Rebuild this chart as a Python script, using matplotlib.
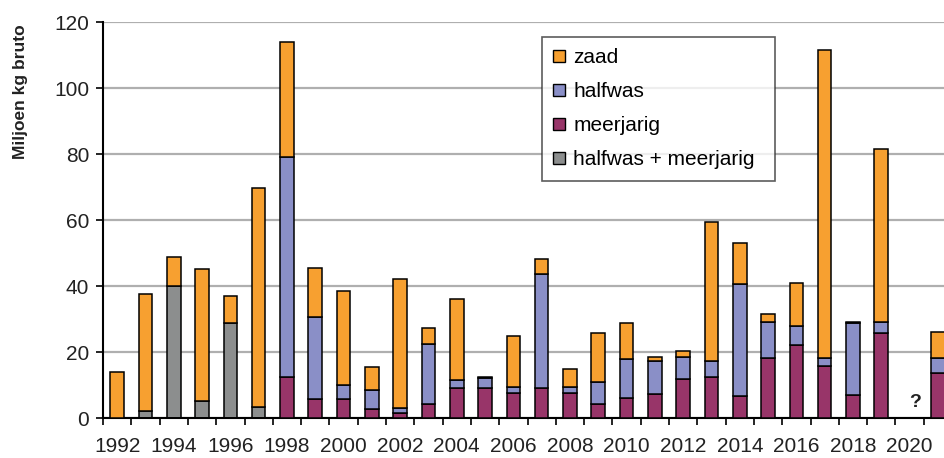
import numpy as np
import matplotlib.pyplot as plt
from matplotlib.patches import Patch

plt.rcParams['font.family'] = ['Liberation Sans', 'DejaVu Sans']

years = list(range(1992, 2022))
# values in million kg; 2020 unknown
meerjarig = [0, 0, 0, 0, 0, 0, 12.3, 5.7, 5.7, 2.6, 1.6, 4.1, 9.2, 9.2, 7.7,
             9.2, 7.7, 4.1, 6.2, 7.2, 11.9, 12.3, 6.7, 18.3, 22.1, 15.8, 7.0,
             25.9, 0, 13.7]
halfwas = [0, 0, 0, 0, 0, 0, 66.7, 25.0, 4.2, 5.9, 1.5, 18.3, 2.3, 2.8, 1.8,
           34.3, 1.8, 6.7, 11.7, 10.2, 6.5, 5.1, 33.9, 10.9, 5.8, 2.5, 21.7,
           3.3, 0, 4.6]
zaad = [14.0, 35.3, 8.6, 40.0, 8.0, 66.4, 35.0, 14.8, 28.7, 6.9, 39.0, 4.8,
        24.7, 0.5, 15.3, 4.6, 5.3, 15.1, 10.8, 1.2, 2.0, 42.1, 12.3, 2.2,
        13.1, 93.2, 0.5, 52.2, 0, 7.9]
halfwas_meerjarig = [0, 2.2, 40.1, 5.2, 28.9, 3.2, 0, 0, 0, 0, 0, 0, 0, 0, 0,
                     0, 0, 0, 0, 0, 0, 0, 0, 0, 0, 0, 0, 0, 0, 0]

c_zaad = '#F7A030'
c_half = '#8A8FC7'
c_meer = '#983569'
c_grey = '#8C8E8E'

x = np.arange(len(years))
meerjarig = np.array(meerjarig)
halfwas = np.array(halfwas)
zaad = np.array(zaad)
halfwas_meerjarig = np.array(halfwas_meerjarig)

fig = plt.figure(figsize=(9.44, 4.58), dpi=100)
ax = fig.add_axes([103 / 944, 40 / 458, 849 / 944, 396 / 458])

w = 0.48
kw = dict(width=w, edgecolor='black', linewidth=1.1, zorder=3)
ax.bar(x, halfwas_meerjarig, color=c_grey, **kw)
ax.bar(x, meerjarig, color=c_meer, **kw)
ax.bar(x, halfwas, bottom=meerjarig, color=c_half, **kw)
base = meerjarig + halfwas + halfwas_meerjarig
ax.bar(x, zaad, bottom=base, color=c_zaad, **kw)

ax.text(x[years.index(2020)] + 0.2, 2.2, '?', ha='center', va='bottom',
        fontsize=14, fontweight='bold', color='#222222')

ax.set_xlim(-0.5, len(years) - 0.5)
ax.set_ylim(0, 120)
ax.set_yticks(range(0, 121, 20))
ax.yaxis.grid(True, color='#AFAFAF', linewidth=1.6, zorder=0)
ax.set_axisbelow(True)

ax.set_xticks(x[::2])
ax.set_xticklabels([str(y) for y in years[::2]])
ax.set_xticks(np.arange(-0.5, len(years)), minor=True)
ax.tick_params(axis='x', which='major', length=0, pad=14, labelsize=15,
               labelcolor='#222222')
ax.tick_params(axis='x', which='minor', length=5, width=1.2, direction='out')
ax.tick_params(axis='y', length=5, width=1.2, labelsize=15, pad=5,
               labelcolor='#222222')

for s in ['top', 'right']:
    ax.spines[s].set_visible(False)
ax.spines['left'].set_linewidth(1.5)
ax.spines['bottom'].set_linewidth(1.5)

fig.text(21 / 944, 1 - 92 / 458, 'Miljoen kg bruto', rotation=90, ha='center',
         va='center', fontsize=12.5, fontweight='bold', color='#222222')

handles = [Patch(facecolor=c_zaad, edgecolor='black', label='zaad'),
           Patch(facecolor=c_half, edgecolor='black', label='halfwas'),
           Patch(facecolor=c_meer, edgecolor='black', label='meerjarig'),
           Patch(facecolor=c_grey, edgecolor='black',
                 label='halfwas + meerjarig')]
leg = ax.legend(handles=handles, loc='upper left',
                bbox_to_anchor=(542 / 944, 1 - 180 / 458, 233 / 944, 143 / 458),
                bbox_transform=fig.transFigure, mode='expand',
                fontsize=15, frameon=True, fancybox=False,
                handlelength=0.55, handleheight=0.55, handletextpad=0.4,
                labelspacing=0.72, borderpad=0.55, borderaxespad=0)
leg.get_frame().set_edgecolor('#333333')
leg.get_frame().set_linewidth(1.2)

fig.savefig('out.png', dpi=100)
